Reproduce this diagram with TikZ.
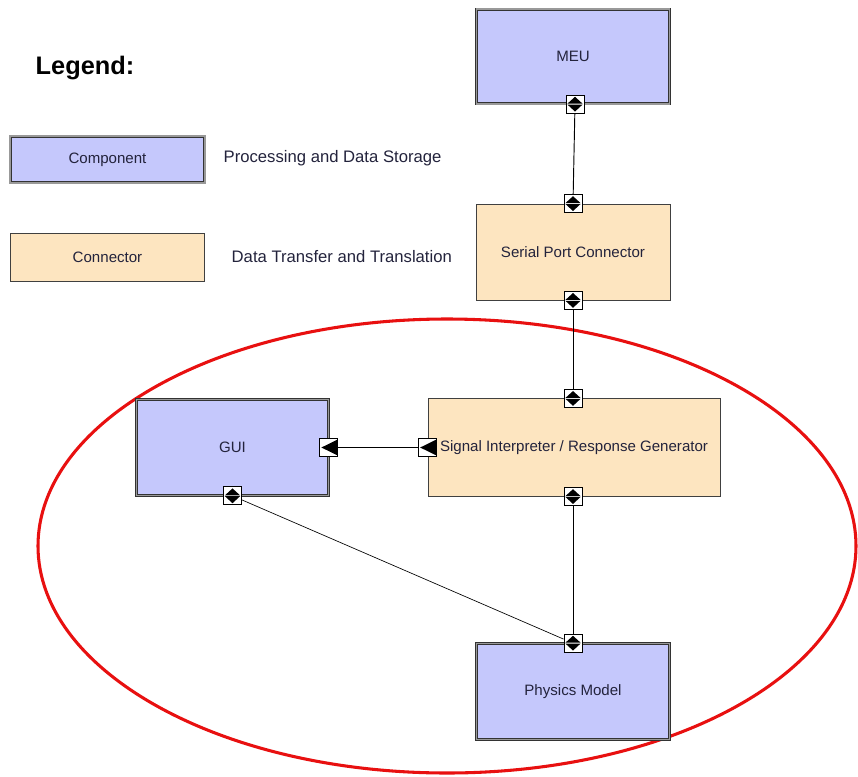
\documentclass[tikz,border=0pt]{standalone}
\usepackage{fontspec}
\setmainfont{Liberation Sans}
\usetikzlibrary{positioning}

\definecolor{compfill}{RGB}{197,200,252}
\definecolor{connfill}{RGB}{253,229,192}
\definecolor{labeltext}{RGB}{35,35,60}
\definecolor{ringred}{RGB}{232,16,16}

\tikzset{
  comp/.style={rectangle, draw=black!80, double=black!40, double distance=1.2pt,
    line width=0.5pt, fill=compfill, text=labeltext, font=\fontsize{11.3}{13}\selectfont},
  conn/.style={rectangle, draw=black!75, line width=0.6pt, fill=connfill,
    text=labeltext, font=\fontsize{11.3}{13}\selectfont},
  portud/.style={rectangle, draw=black, line width=0.75pt, fill=white, inner sep=0pt,
    minimum size=13.5pt,
    path picture={
      \fill[black] ([yshift=-1.2pt]path picture bounding box.north)
        -- ([xshift=1.1pt,yshift=0.4pt]path picture bounding box.west)
        -- ([xshift=-1.1pt,yshift=0.4pt]path picture bounding box.east) -- cycle;
      \fill[black] ([yshift=1.2pt]path picture bounding box.south)
        -- ([xshift=1.1pt,yshift=-0.3pt]path picture bounding box.west)
        -- ([xshift=-1.1pt,yshift=-0.3pt]path picture bounding box.east) -- cycle;
    }},
  portlt/.style={rectangle, draw=black, line width=0.75pt, fill=white, inner sep=0pt,
    minimum size=13.5pt,
    path picture={
      \fill[black] ([xshift=1.2pt]path picture bounding box.west)
        -- ([xshift=-0.6pt,yshift=-1pt]path picture bounding box.north east)
        -- ([xshift=-0.6pt,yshift=1pt]path picture bounding box.south east) -- cycle;
    }},
  legtext/.style={anchor=west, text=labeltext, font=\fontsize{12.5}{15}\selectfont}
}

\begin{document}
\begin{tikzpicture}[x=0.75pt, y=-0.75pt]
  \useasboundingbox (0,0) rectangle (858,776);

  % focus ring
  \draw[ringred, line width=2.3pt] (447,546) ellipse [x radius=409, y radius=227];

  % legend
  \node[anchor=west, font=\bfseries\fontsize{19}{22}\selectfont](LegendTitle) at (31,68){Legend:};
  \node[comp, minimum width=146pt, minimum height=35pt](LegendComp) at (107.5,159.5){Component};
  \node[legtext](LegendCompText) at (219,158){Processing and Data Storage};
  \node[conn, minimum width=146pt, minimum height=36pt](LegendConn) at (107.5,257){Connector};
  \node[legtext](LegendConnText) at (227,257){Data Transfer and Translation};

  % components and connectors
  \node[comp, minimum width=145pt, minimum height=71pt](MEU) at (573,56.5){MEU};
  \node[conn, minimum width=145.5pt, minimum height=72pt](Serial) at (573,252){Serial Port Connector};
  \node[conn, minimum width=219pt, minimum height=73pt](Signal) at (574,447.5){Signal Interpreter / Response Generator};
  \node[comp, minimum width=144pt, minimum height=72pt](GUI) at (232.5,447.5){GUI};
  \node[comp, minimum width=145pt, minimum height=72pt](Physics) at (573,691.5){Physics Model};

  % ports
  \node[portud](MEUPort) at ([xshift=1.5pt]MEU.south){};
  \node[portud](SerialTop) at (Serial.north){};
  \node[portud](SerialBottom) at (Serial.south){};
  \node[portud](SignalTop) at ([xshift=-0.75pt]Signal.north){};
  \node[portud](SignalBottom) at ([xshift=-0.75pt]Signal.south){};
  \node[portlt](SignalLeft) at (Signal.west){};
  \node[portlt](GUIRight) at (GUI.east){};
  \node[portud](GUIBottom) at (GUI.south){};
  \node[portud](PhysicsTop) at (Physics.north){};

  % links
  \path[draw=black, line width=0.7pt]
  (MEUPort) edge (SerialTop)
  (SerialBottom) edge (SignalTop)
  (SignalLeft) edge (GUIRight)
  (SignalBottom) edge (PhysicsTop);
  \draw[black, line width=0.5pt] (GUIBottom) -- (PhysicsTop);
\end{tikzpicture}
\end{document}
